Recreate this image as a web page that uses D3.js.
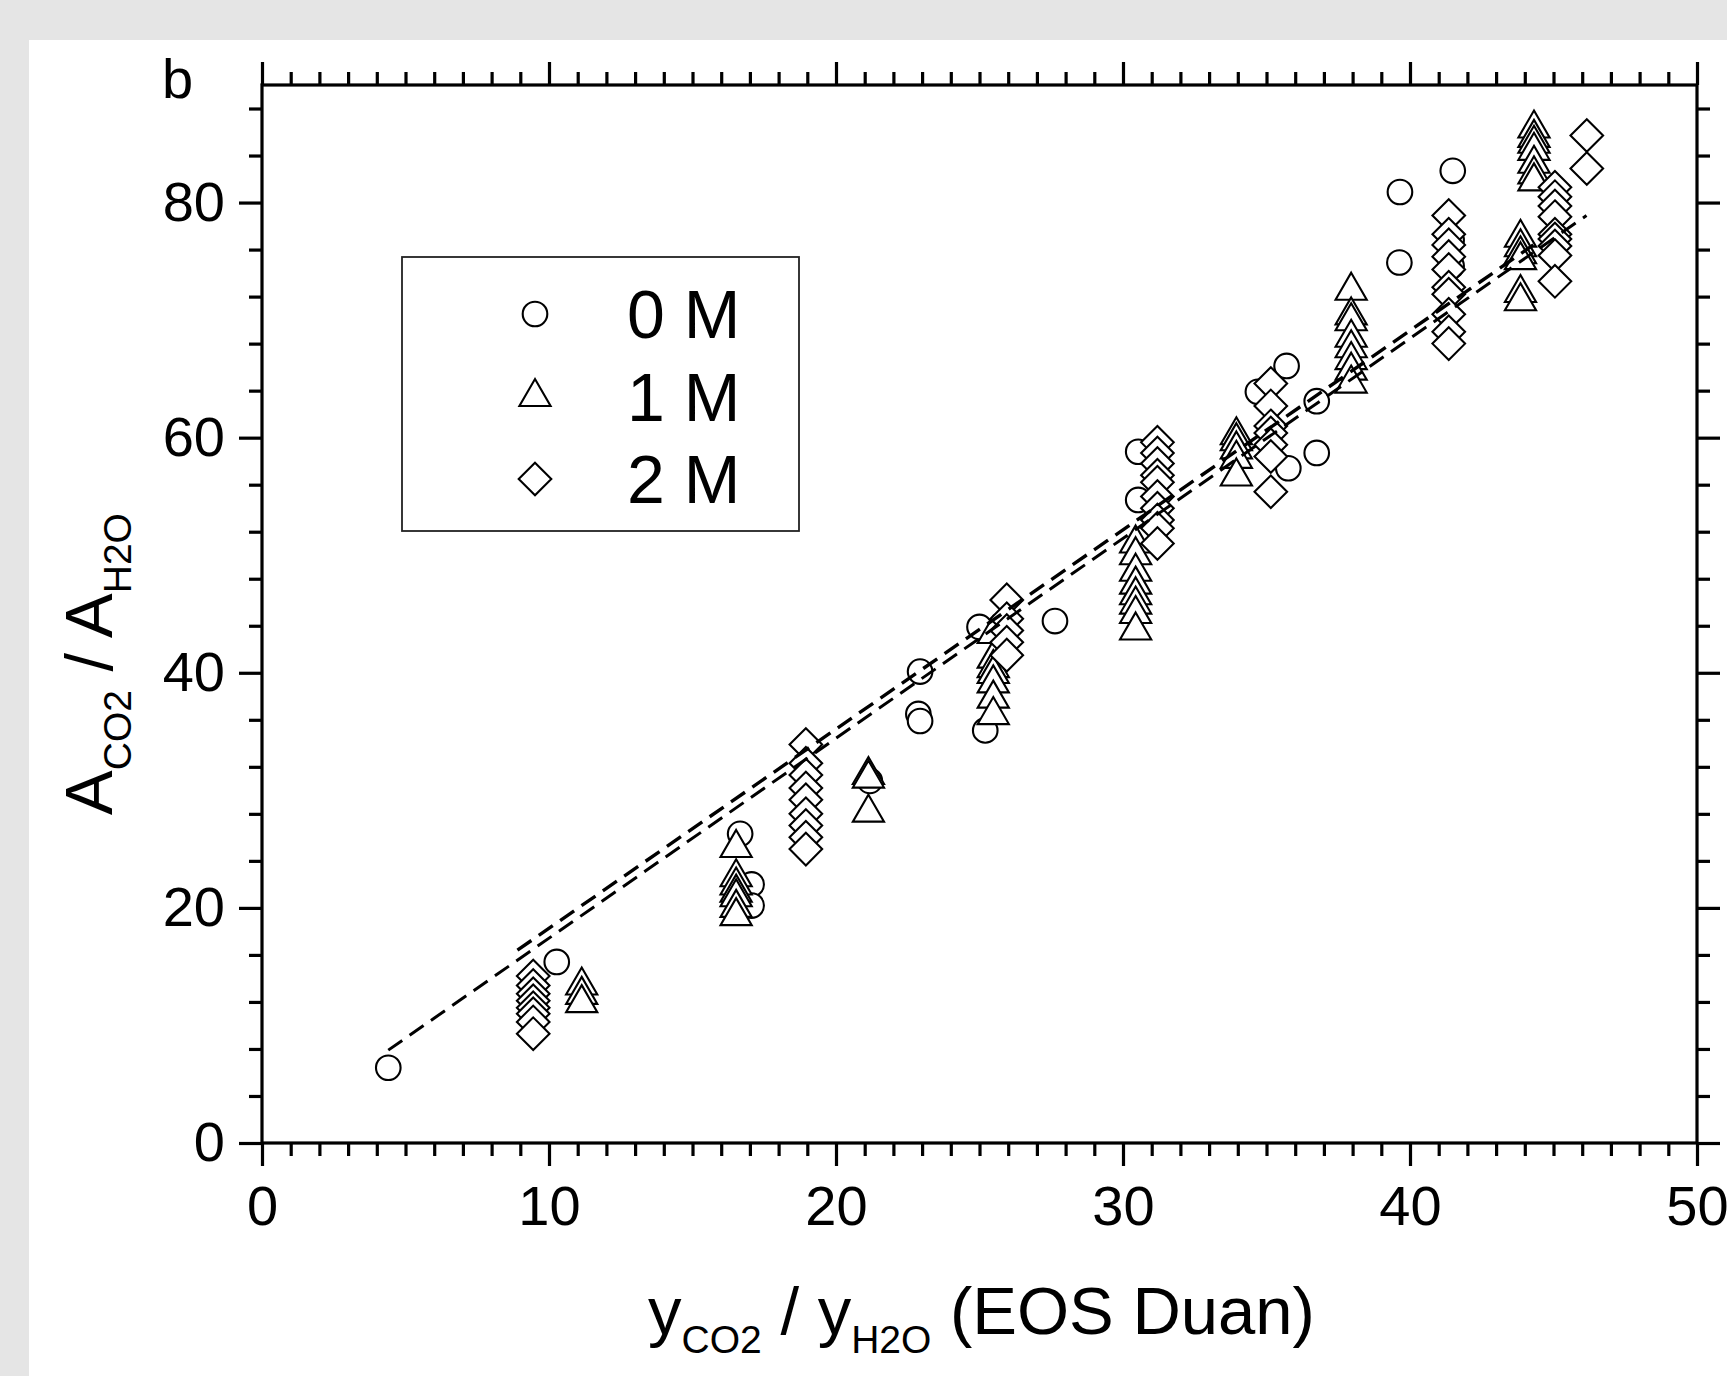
<!DOCTYPE html>
<html><head><meta charset="utf-8">
<script src="https://cdn.jsdelivr.net/npm/d3@7"></script>
<style>
html,body{margin:0;padding:0;background:#e5e5e5;}
svg{display:block;}
text{font-family:"Liberation Sans",Arial,Helvetica,sans-serif;fill:#000;white-space:pre;}
</style>
</head><body>
<svg id="chart" width="1727" height="1376"></svg>
<script>
// ---------- data ----------
const xTicks = [0, 10, 20, 30, 40, 50];
const yTicks = [0, 20, 40, 60, 80];
const seriesNames = ["0 M", "1 M", "2 M"];

// 0 M (circles)
const m0x = [4.40, 10.27, 16.66, 17.06, 17.06, 21.18, 22.93, 22.87, 22.93, 25.20, 25.00, 27.63,
             30.53, 30.53, 34.70, 35.70, 35.76, 36.75, 36.75, 39.65, 39.63, 41.49, 41.45, 41.45];
const m0y = [6.4, 15.4, 26.3, 22.0, 20.2, 30.8, 40.1, 36.5, 35.9, 35.1, 43.9, 44.4,
             58.8, 54.7, 63.9, 66.1, 57.4, 63.1, 58.7, 80.9, 74.9, 82.7, 76.8, 74.6];

// 1 M (triangles): one x per column, list of y values
const m1x = [11.14, 16.52, 21.13, 25.48, 30.44, 33.95, 37.95, 43.85, 44.32];
const m1y = [
  [13.4, 12.6, 11.9],
  [25.1, 22.6, 21.9, 21.3, 20.9, 20.0, 19.3],
  [31.3, 31.0, 28.1],
  [43.3, 41.2, 40.4, 39.9, 39.1, 37.8, 36.4],
  [51.0, 50.0, 48.6, 47.5, 46.6, 45.8, 45.0, 43.6],
  [60.2, 59.7, 59.0, 58.2, 56.7],
  [72.5, 70.4, 69.9, 68.5, 67.6, 66.6, 65.7, 64.6],
  [77.0, 76.2, 75.6, 75.1, 72.3, 71.6],
  [86.3, 85.5, 85.0, 84.4, 83.3, 82.4, 81.8]
];

// 2 M (diamonds)
const m2x = [9.45, 18.95, 25.95, 31.20, 35.15, 41.35, 45.05, 46.16];
const m2y = [
  [14.2, 13.4, 12.7, 12.1, 11.5, 11.0, 10.3, 9.3],
  [33.9, 32.3, 31.3, 30.2, 29.2, 28.0, 27.0, 26.0, 25.0],
  [46.2, 44.6, 43.6, 42.6, 41.5],
  [59.6, 58.7, 57.8, 56.8, 56.2, 55.0, 54.0, 53.0, 52.3, 51.0],
  [64.6, 62.7, 61.0, 60.4, 59.4, 58.4, 55.4],
  [78.9, 77.3, 76.4, 75.4, 74.3, 72.8, 72.2, 70.5, 69.0, 68.0],
  [81.3, 80.5, 79.7, 78.8, 77.3, 76.9, 76.3, 75.5, 73.3],
  [85.7, 82.9]
];

// dashed linear fits (end points)
const fitAx = [4.4, 46.15], fitAy = [7.9, 78.9];
const fitBx = [8.9, 44.3],  fitBy = [16.4, 76.4];

// ---------- layout ----------
const svg = d3.select("#chart");
svg.append("rect").attr("x", 29).attr("y", 40).attr("width", 1727 - 29).attr("height", 1376 - 40).attr("fill", "#fff");

const x = d3.scaleLinear().domain([0, 50]).range([262, 1697]);
const y = d3.scaleLinear().domain([0, 90]).range([1143, 85]);

const triPath = "M0,-18L15.6,9L-15.6,9Z";
const diaPath = "M0,-16.3L16.3,0L0,16.3L-16.3,0Z";
const CR = 12.3, MSW = 2.1;

function flat(xs, ys) {
  const out = [];
  xs.forEach((xv, i) => ys[i].forEach(yv => out.push([xv, yv])));
  return out;
}
const pts0 = m0x.map((v, i) => [v, m0y[i]]);
const pts1 = flat(m1x, m1y);
const pts2 = flat(m2x, m2y);

const gPts = svg.append("g");
gPts.selectAll("circle.c0").data(pts0).join("circle").attr("class", "c0")
  .attr("cx", d => x(d[0])).attr("cy", d => y(d[1])).attr("r", CR)
  .attr("fill", "#fff").attr("stroke", "#000").attr("stroke-width", MSW);
gPts.selectAll("path.t1").data(pts1).join("path").attr("class", "t1")
  .attr("d", triPath).attr("transform", d => `translate(${x(d[0])},${y(d[1])})`)
  .attr("fill", "#fff").attr("stroke", "#000").attr("stroke-width", MSW);
gPts.selectAll("path.d2").data(pts2).join("path").attr("class", "d2")
  .attr("d", diaPath).attr("transform", d => `translate(${x(d[0])},${y(d[1])})`)
  .attr("fill", "#fff").attr("stroke", "#000").attr("stroke-width", MSW);

const line = d3.line().x(d => x(d[0])).y(d => y(d[1]));
svg.append("path").attr("d", line(fitAx.map((v, i) => [v, fitAy[i]])))
  .attr("fill", "none").attr("stroke", "#000").attr("stroke-width", 3).attr("stroke-dasharray", "17,9");
svg.append("path").attr("d", line(fitBx.map((v, i) => [v, fitBy[i]])))
  .attr("fill", "none").attr("stroke", "#000").attr("stroke-width", 3.4).attr("stroke-dasharray", "17,9");

// ---------- axes ----------
const xMinor = d3.range(0, 51, 1).filter(v => v % 10 !== 0);
const yMinor = d3.range(0, 91, 4).filter(v => v % 20 !== 0);
const MAJ = 23, MIN = 13, AW = 3.2, FS = 56;

function styleAxis(g) {
  g.select(".domain").remove();
  g.selectAll("line").attr("stroke", "#000").attr("stroke-width", AW);
  g.attr("font-family", null).attr("font-size", null);
  g.selectAll("text").attr("font-size", FS).attr("fill", "#000");
}
const pBot = 1143, pTop = 85, pLeft = 262, pRight = 1697;

svg.append("g").attr("transform", `translate(0,${pBot})`)
  .call(d3.axisBottom(x).tickValues(xTicks).tickSize(MAJ).tickPadding(19).tickFormat(d3.format("d"))).call(styleAxis);
svg.append("g").attr("transform", `translate(0,${pBot})`)
  .call(d3.axisBottom(x).tickValues(xMinor).tickSize(MIN).tickFormat("")).call(styleAxis);
svg.append("g").attr("transform", `translate(0,${pTop})`)
  .call(d3.axisTop(x).tickValues(xTicks).tickSize(MAJ).tickFormat("")).call(styleAxis);
svg.append("g").attr("transform", `translate(0,${pTop})`)
  .call(d3.axisTop(x).tickValues(xMinor).tickSize(MIN).tickFormat("")).call(styleAxis);

svg.append("g").attr("transform", `translate(${pLeft},0)`)
  .call(d3.axisLeft(y).tickValues(yTicks).tickSize(MAJ).tickPadding(14).tickFormat(d3.format("d"))).call(styleAxis);
svg.append("g").attr("transform", `translate(${pLeft},0)`)
  .call(d3.axisLeft(y).tickValues(yMinor).tickSize(MIN).tickFormat("")).call(styleAxis);
svg.append("g").attr("transform", `translate(${pRight},0)`)
  .call(d3.axisRight(y).tickValues(yTicks).tickSize(MAJ).tickFormat("")).call(styleAxis);
svg.append("g").attr("transform", `translate(${pRight},0)`)
  .call(d3.axisRight(y).tickValues(yMinor).tickSize(MIN).tickFormat("")).call(styleAxis);

svg.append("rect").attr("x", pLeft).attr("y", pTop).attr("width", pRight - pLeft).attr("height", pBot - pTop)
  .attr("fill", "none").attr("stroke", "#000").attr("stroke-width", AW);

// ---------- titles ----------
const TF = 67, SF = 39, SH = 19;
const xt = svg.append("text").attr("x", (pLeft + pRight) / 2 + 2).attr("y", 1334)
  .attr("text-anchor", "middle").attr("font-size", TF);
xt.append("tspan").text("y");
xt.append("tspan").attr("font-size", SF).attr("dy", SH).text("CO2");
xt.append("tspan").attr("dy", -SH).text(" / y");
xt.append("tspan").attr("font-size", SF).attr("dy", SH).text("H2O");
xt.append("tspan").attr("dy", -SH).text(" (EOS Duan)");

const yt = svg.append("text").attr("transform", "translate(112,664) rotate(-90)")
  .attr("text-anchor", "middle").attr("font-size", TF);
yt.append("tspan").text("A");
yt.append("tspan").attr("font-size", SF).attr("dy", SH).text("CO2");
yt.append("tspan").attr("dy", -SH).text(" / A");
yt.append("tspan").attr("font-size", SF).attr("dy", SH).text("H2O");

svg.append("text").attr("x", 162).attr("y", 98).attr("font-size", 56).text("b");

// ---------- legend ----------
const lg = svg.append("g");
lg.append("rect").attr("x", 402).attr("y", 257).attr("width", 397).attr("height", 274)
  .attr("fill", "#fff").attr("stroke", "#222").attr("stroke-width", 1.8);
const legY = [314, 397, 479];
const legShapes = ["circle", triPath, diaPath];
seriesNames.forEach((name, i) => {
  if (i === 0) {
    lg.append("circle").attr("cx", 535).attr("cy", legY[i]).attr("r", CR)
      .attr("fill", "#fff").attr("stroke", "#000").attr("stroke-width", MSW);
  } else {
    lg.append("path").attr("d", legShapes[i]).attr("transform", `translate(535,${legY[i]})`)
      .attr("fill", "#fff").attr("stroke", "#000").attr("stroke-width", MSW);
  }
  lg.append("text").attr("x", 627).attr("y", legY[i] + 24).attr("font-size", 68).text(name);
});
</script>
</body></html>
